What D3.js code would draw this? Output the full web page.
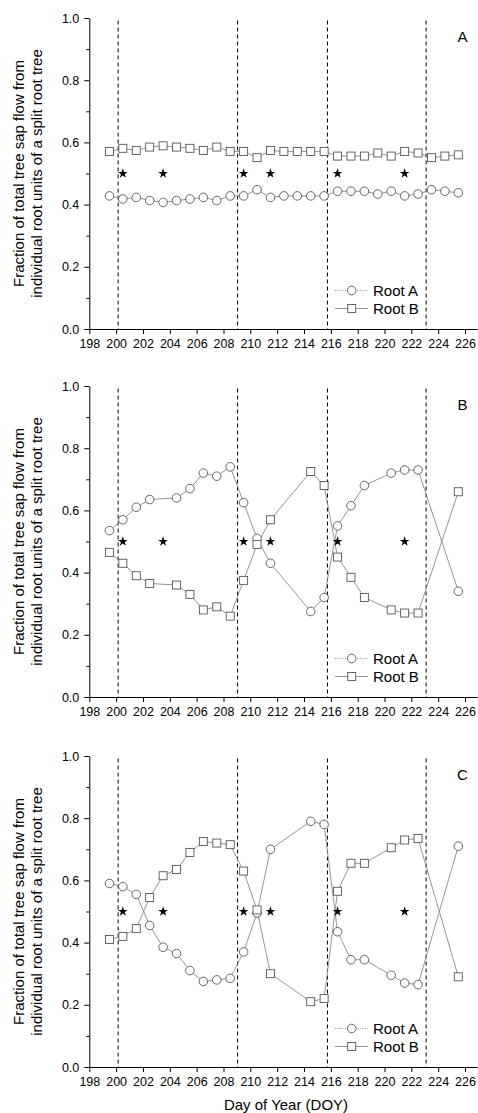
<!DOCTYPE html>
<html>
<head>
<meta charset="utf-8">
<script src="https://cdn.jsdelivr.net/npm/d3@7/dist/d3.min.js"></script>
<style>
  body { margin: 0; background: #fff; }
  svg { display: block; font-family: Arial, "Liberation Sans", sans-serif; }
  .axis path, .axis line { stroke: #000; stroke-width: 1; }
  .axis text { font-size: 12.5px; fill: #000; }
</style>
</head>
<body>
<svg width="478" height="1113"></svg>
<script>
//Données
var xTicks = [198, 200, 202, 204, 206, 208, 210, 212, 214, 216, 218, 220, 222, 224, 226];
var yTicks = [0, 0.2, 0.4, 0.6, 0.8, 1.0];
var yMinorTicks = [0.1, 0.3, 0.5, 0.7, 0.9];
var dashedDays = [200.15, 209.05, 215.75, 223.1];
var starDays = [200.5, 203.5, 209.5, 211.5, 216.5, 221.5];
var starLevel = 0.5;

var daysA = [199.5, 200.5, 201.5, 202.5, 203.5, 204.5, 205.5, 206.5, 207.5, 208.5, 209.5, 210.5, 211.5,
             212.5, 213.5, 214.5, 215.5, 216.5, 217.5, 218.5, 219.5, 220.5, 221.5, 222.5, 223.5, 224.5, 225.5];
var rootA_A = [0.428, 0.418, 0.423, 0.413, 0.407, 0.413, 0.418, 0.423, 0.413, 0.428, 0.428, 0.448, 0.423,
               0.428, 0.428, 0.428, 0.428, 0.443, 0.443, 0.443, 0.434, 0.443, 0.428, 0.434, 0.448, 0.443, 0.438];
var rootB_A = [0.571, 0.581, 0.574, 0.585, 0.589, 0.585, 0.581, 0.574, 0.585, 0.571, 0.571, 0.551, 0.574,
               0.571, 0.571, 0.571, 0.571, 0.556, 0.556, 0.556, 0.566, 0.556, 0.571, 0.566, 0.551, 0.556, 0.560];

var daysB = [199.5, 200.5, 201.5, 202.5, 204.5, 205.5, 206.5, 207.5, 208.5, 209.5, 210.5, 211.5,
             214.5, 215.5, 216.5, 217.5, 218.5, 220.5, 221.5, 222.5, 225.5];
var rootA_B = [0.535, 0.570, 0.610, 0.635, 0.640, 0.670, 0.720, 0.710, 0.740, 0.625, 0.510, 0.430,
               0.275, 0.320, 0.550, 0.615, 0.680, 0.720, 0.730, 0.730, 0.340];
var rootB_B = [0.465, 0.430, 0.390, 0.365, 0.360, 0.330, 0.280, 0.290, 0.260, 0.375, 0.490, 0.570,
               0.725, 0.680, 0.450, 0.385, 0.320, 0.280, 0.270, 0.270, 0.660];

var daysC = [199.5, 200.5, 201.5, 202.5, 203.5, 204.5, 205.5, 206.5, 207.5, 208.5, 209.5, 210.5, 211.5,
             214.5, 215.5, 216.5, 217.5, 218.5, 220.5, 221.5, 222.5, 225.5];
var rootA_C = [0.590, 0.580, 0.555, 0.455, 0.385, 0.365, 0.310, 0.275, 0.280, 0.285, 0.370, 0.495, 0.700,
               0.790, 0.780, 0.435, 0.345, 0.345, 0.295, 0.270, 0.265, 0.710];
var rootB_C = [0.410, 0.420, 0.445, 0.545, 0.615, 0.635, 0.690, 0.725, 0.720, 0.715, 0.630, 0.505, 0.300,
               0.210, 0.220, 0.565, 0.655, 0.655, 0.705, 0.730, 0.735, 0.290];

var panelNames = ["A", "B", "C"];
var panelDays = [daysA, daysB, daysC];
var panelRootA = [rootA_A, rootA_B, rootA_C];
var panelRootB = [rootB_A, rootB_B, rootB_C];

(function () {
    var svg = d3.select("svg");
    //Géométrie des panneaux
    var left = 89.3, right = 477.1;
    var panelTops = [18, 386, 756];
    var panelHeight = 311;
    var lineColor = "#8a8a8a", markColor = "#555";

    var x = d3.scaleLinear().domain([198, 226.9]).range([left, right]);

    var star = d3.symbol().type(d3.symbolStar).size(30);

    panelNames.forEach(function (name, i) {
        var top = panelTops[i];
        var y = d3.scaleLinear().domain([0, 1]).range([top + panelHeight, top]);
        var g = svg.append("g");

        //Lignes verticales pointillées
        g.selectAll(".dash").data(dashedDays).enter().append("line")
            .attr("x1", d => x(d)).attr("x2", d => x(d))
            .attr("y1", top + 2.5).attr("y2", y(0))
            .attr("stroke", "#000").attr("stroke-width", 1)
            .attr("stroke-dasharray", "4,3");

        //Axes
        g.append("g").attr("class", "axis")
            .attr("transform", "translate(0," + y(0) + ")")
            .call(d3.axisBottom(x).tickValues(xTicks).tickFormat(d3.format("d"))
                .tickSize(5).tickSizeOuter(0).tickPadding(5));
        g.append("g").attr("class", "axis")
            .attr("transform", "translate(" + left + ",0)")
            .call(d3.axisLeft(y).tickValues(yTicks).tickFormat(d3.format(".1f"))
                .tickSize(5).tickSizeOuter(0).tickPadding(5));
        g.append("g").attr("class", "axis")
            .attr("transform", "translate(" + left + ",0)")
            .call(d3.axisLeft(y).tickValues(yMinorTicks).tickFormat("").tickSize(3).tickSizeOuter(0))
            .select(".domain").remove();

        //Séries
        var days = panelDays[i];
        var serieA = days.map((d, k) => ({day: d, v: panelRootA[i][k]}));
        var serieB = days.map((d, k) => ({day: d, v: panelRootB[i][k]}));
        var line = d3.line().x(d => x(d.day)).y(d => y(d.v));

        [serieA, serieB].forEach(function (s) {
            g.append("path").attr("d", line(s))
                .attr("fill", "none").attr("stroke", lineColor).attr("stroke-width", 0.9);
        });
        g.selectAll(".ptA").data(serieA).enter().append("circle")
            .attr("cx", d => x(d.day)).attr("cy", d => y(d.v)).attr("r", 4.3)
            .attr("fill", "#fff").attr("stroke", markColor).attr("stroke-width", 0.9);
        g.selectAll(".ptB").data(serieB).enter().append("rect")
            .attr("x", d => x(d.day) - 4).attr("y", d => y(d.v) - 4)
            .attr("width", 8).attr("height", 8)
            .attr("fill", "#fff").attr("stroke", markColor).attr("stroke-width", 0.9);

        //Étoiles
        g.selectAll(".star").data(starDays).enter().append("path")
            .attr("d", star)
            .attr("transform", d => "translate(" + x(d) + "," + y(starLevel) + ")")
            .attr("fill", "#000");

        //Lettre du panneau
        g.append("text").attr("x", 462.5).attr("y", top + 23.5)
            .attr("text-anchor", "middle").attr("font-size", 15).text(name);

        //Légende
        var leg = g.append("g");
        var ly1 = top + 272.5, ly2 = top + 290.5;
        leg.append("line").attr("x1", 335).attr("x2", 368).attr("y1", ly1).attr("y2", ly1)
            .attr("stroke", lineColor).attr("stroke-width", 0.9).attr("stroke-dasharray", "1,1.5");
        leg.append("circle").attr("cx", 351.7).attr("cy", ly1).attr("r", 4.3)
            .attr("fill", "#fff").attr("stroke", markColor).attr("stroke-width", 0.9);
        leg.append("line").attr("x1", 335).attr("x2", 368).attr("y1", ly2).attr("y2", ly2)
            .attr("stroke", lineColor).attr("stroke-width", 0.9);
        leg.append("rect").attr("x", 351.7 - 4).attr("y", ly2 - 4).attr("width", 8).attr("height", 8)
            .attr("fill", "#fff").attr("stroke", markColor).attr("stroke-width", 0.9);
        leg.append("text").attr("x", 373).attr("y", ly1 + 5.5).attr("font-size", 15).text("Root A");
        leg.append("text").attr("x", 373).attr("y", ly2 + 5.5).attr("font-size", 15).text("Root B");

        //Titre de l'axe vertical
        var cy = top + panelHeight / 2;
        var yl = g.append("text").attr("transform", "translate(0," + cy + ") rotate(-90)")
            .attr("text-anchor", "middle").attr("font-size", 15);
        yl.append("tspan").attr("x", 0).attr("y", 24).text("Fraction of total tree sap flow from");
        yl.append("tspan").attr("x", 0).attr("y", 42).text("individual root units of a split root tree");
    });

    //Titre de l'axe horizontal
    svg.append("text").attr("x", 286).attr("y", 1110)
        .attr("text-anchor", "middle").attr("font-size", 15).text("Day of Year (DOY)");
})();
</script>
</body>
</html>
